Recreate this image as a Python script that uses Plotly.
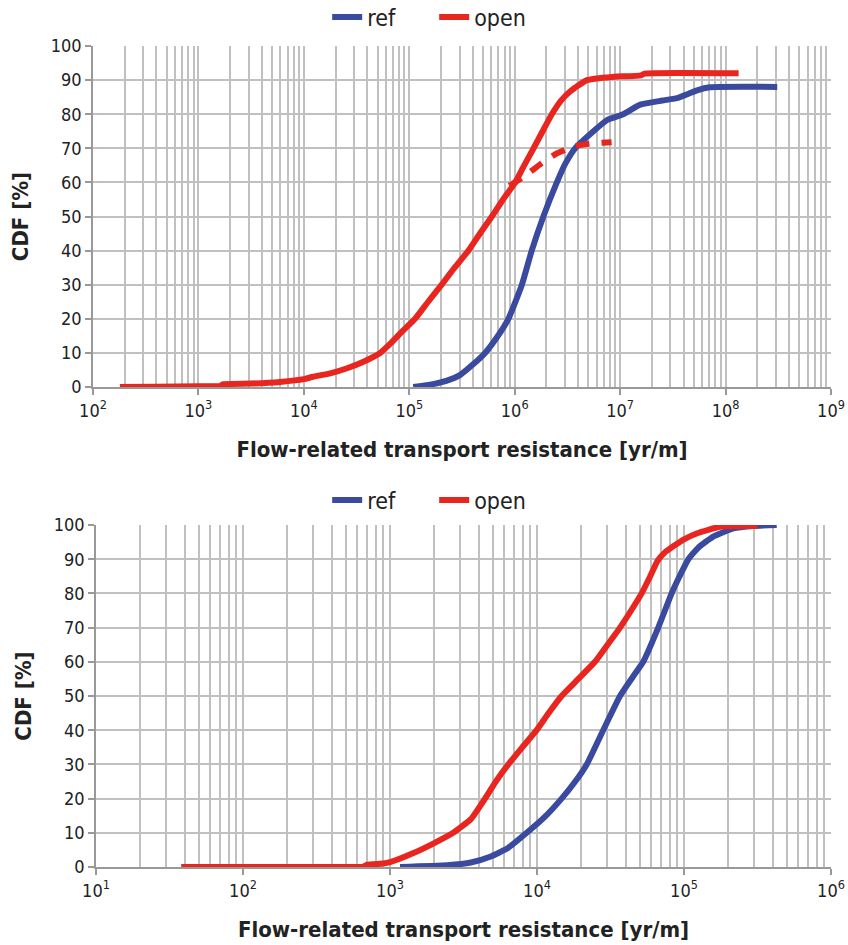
import plotly.graph_objects as go

# ---------------- data ----------------
# Top panel
top_ref_x = [1.09e5, 1.58e5, 2.24e5, 3.02e5, 3.98e5, 5.24e5, 6.76e5, 8.71e5, 1.17e6, 1.45e6,
             1.87e6, 2.51e6, 3.02e6, 3.74e6, 5.58e6, 7.53e6, 1.07e7, 1.55e7, 2.51e7, 3.55e7,
             4.47e7, 5.37e7, 7.08e7, 3.09e8]
top_ref_y = [0, 0.7, 1.8, 3.5, 6.5, 10, 14.5, 20, 30, 40,
             50, 60, 65.5, 70, 75, 78.3, 80, 82.8, 84, 84.8,
             86, 87, 87.9, 88]

top_open_x = [180, 400, 1000, 1620, 1700, 3160, 5940, 1.00e4, 1.22e4, 1.78e4,
              2.57e4, 3.72e4, 5.25e4, 6.76e4, 8.71e4, 1.135e5, 1.51e5, 2.03e5, 2.69e5, 3.64e5,
              4.68e5, 6.07e5, 7.76e5, 1.01e6, 1.23e6, 1.51e6, 1.84e6, 2.25e6, 2.75e6, 3.39e6,
              4.83e6, 6.46e6, 8.91e6, 1.58e7, 1.70e7, 1.33e8]
top_open_y = [0, 0.1, 0.2, 0.3, 0.8, 1.0, 1.5, 2.3, 3.0, 4.0,
              5.5, 7.5, 9.9, 13, 16.5, 20, 25, 30, 35, 40,
              45, 50, 55, 60, 65, 70, 75, 80, 84, 86.8,
              90, 90.6, 91, 91.4, 91.9, 92]

top_open_dash_x = [8.9e5, 1.26e6, 1.78e6, 2.51e6, 3.55e6, 5.0e6, 8.3e6]
top_open_dash_y = [59, 62, 65.5, 68.5, 70.5, 71.3, 71.8]

# Bottom panel
bot_ref_x = [1170, 2450, 3550, 4790, 6310, 8510, 1.12e4, 1.47e4, 1.82e4, 2.18e4,
             2.82e4, 3.67e4, 4.47e4, 5.28e4, 6.68e4, 8.24e4, 9.33e4, 1.07e5, 1.26e5, 1.58e5,
             2.17e5, 2.95e5, 4.27e5]
bot_ref_y = [0, 0.5, 1.3, 3, 5.5, 10, 14.5, 20, 25, 30,
             40, 50, 55.5, 60, 70, 80, 85, 90, 93.5, 96.6,
             99, 99.7, 100]

bot_open_x = [38, 160, 400, 660, 700, 900, 1000, 1430, 2000, 2690, 3550, 4430,
              5250, 6380, 7940, 9950, 1.20e4, 1.47e4, 1.91e4, 2.48e4, 3.02e4, 3.67e4,
              4.37e4, 5.15e4, 5.89e4, 6.61e4, 7.41e4, 8.41e4, 1.0e5, 1.23e5, 1.76e5, 3.16e5]
bot_open_y = [0, 0, 0, 0.1, 0.7, 1.0, 1.4, 4, 7, 10, 14, 20,
              25, 30, 35, 40, 45, 50, 55, 60, 65, 70,
              75, 80, 85, 89.5, 92, 93.7, 95.8, 97.6, 99.5, 99.7]

top_ticks = [1e2, 1e3, 1e4, 1e5, 1e6, 1e7, 1e8, 1e9]
top_ticktext = ["10<sup>2</sup>", "10<sup>3</sup>", "10<sup>4</sup>", "10<sup>5</sup>",
                "10<sup>6</sup>", "10<sup>7</sup>", "10<sup>8</sup>", "10<sup>9</sup>"]
bot_ticks = [1e1, 1e2, 1e3, 1e4, 1e5, 1e6]
bot_ticktext = ["10<sup>1</sup>", "10<sup>2</sup>", "10<sup>3</sup>", "10<sup>4</sup>",
                "10<sup>5</sup>", "10<sup>6</sup>"]

# ---------------- styling ----------------
BLUE = "#3a4a9e"
RED = "#e8251f"
GRID = "#c0c0c0"
AXIS = "#999999"
FONT = "DejaVu Sans Condensed, Liberation Sans, Arial, sans-serif"
LW = 6
LINE = dict(width=LW, shape="spline", smoothing=0.45)

fig = go.Figure()
fig.add_trace(go.Scatter(x=top_ref_x, y=top_ref_y, mode="lines", name="ref",
                         line=dict(color=BLUE, **LINE), xaxis="x", yaxis="y", legend="legend"))
fig.add_trace(go.Scatter(x=top_open_x, y=top_open_y, mode="lines", name="open",
                         line=dict(color=RED, **LINE), xaxis="x", yaxis="y", legend="legend"))
fig.add_trace(go.Scatter(x=top_open_dash_x, y=top_open_dash_y, mode="lines", name="open",
                         line=dict(color=RED, dash="14px,12px", **LINE), showlegend=False,
                         xaxis="x", yaxis="y"))
fig.add_trace(go.Scatter(x=bot_ref_x, y=bot_ref_y, mode="lines", name="ref",
                         line=dict(color=BLUE, **LINE), xaxis="x2", yaxis="y2", legend="legend2"))
fig.add_trace(go.Scatter(x=bot_open_x, y=bot_open_y, mode="lines", name="open",
                         line=dict(color=RED, **LINE), xaxis="x2", yaxis="y2", legend="legend2"))

def xaxis(rng, dom, anchor, tv, tt):
    return dict(type="log", range=rng, domain=dom, anchor=anchor, automargin=False,
                tickvals=tv, ticktext=tt, ticks="outside", ticklen=6, tickwidth=1.5,
                tickcolor=AXIS, showline=True, linecolor=AXIS, linewidth=2,
                showgrid=True, gridcolor=GRID, gridwidth=1.5, zeroline=False,
                minor=dict(dtick="D1", showgrid=True, gridcolor=GRID, gridwidth=1.5, ticks=""),
                tickfont=dict(family=FONT, size=18, color="#222"),
                title=dict(text="<b>Flow-related transport resistance [yr/m]</b>",
                           font=dict(family=FONT, size=22, color="#222"), standoff=22))

def yaxis(dom, anchor):
    return dict(range=[0, 100], dtick=10, domain=dom, anchor=anchor, automargin=False,
                ticks="outside", ticklen=6, tickwidth=1.5, tickcolor=AXIS,
                showline=True, linecolor=AXIS, linewidth=1.5,
                showgrid=True, gridcolor=GRID, gridwidth=1.5, zeroline=False,
                tickfont=dict(family=FONT, size=18, color="#222"),
                title=dict(text="<b>CDF [%]</b>", font=dict(family=FONT, size=22, color="#222"),
                           standoff=16))

LEG = dict(orientation="h", x=0.512, xanchor="center", yanchor="middle",
           font=dict(family=FONT, size=23, color="#222"), bgcolor="rgba(0,0,0,0)",
           entrywidth=62, entrywidthmode="pixels")

fig.update_layout(
    width=848, height=945,
    margin=dict(l=0, r=0, t=0, b=0, autoexpand=False),
    paper_bgcolor="white", plot_bgcolor="white",
    font=dict(family=FONT, color="#222"),
    xaxis=xaxis([2, 9], [93/848, 831/848], "y", top_ticks, top_ticktext),
    yaxis=yaxis([558/945, 899/945], "x"),
    xaxis2=xaxis([1, 6], [96/848, 831/848], "y2", bot_ticks, bot_ticktext),
    yaxis2=yaxis([78/945, 420/945], "x2"),
    legend=dict(y=(945-17)/945, **LEG),
    legend2=dict(y=(945-500)/945, **LEG),
    showlegend=True,
)

fig.write_html("out.html")
